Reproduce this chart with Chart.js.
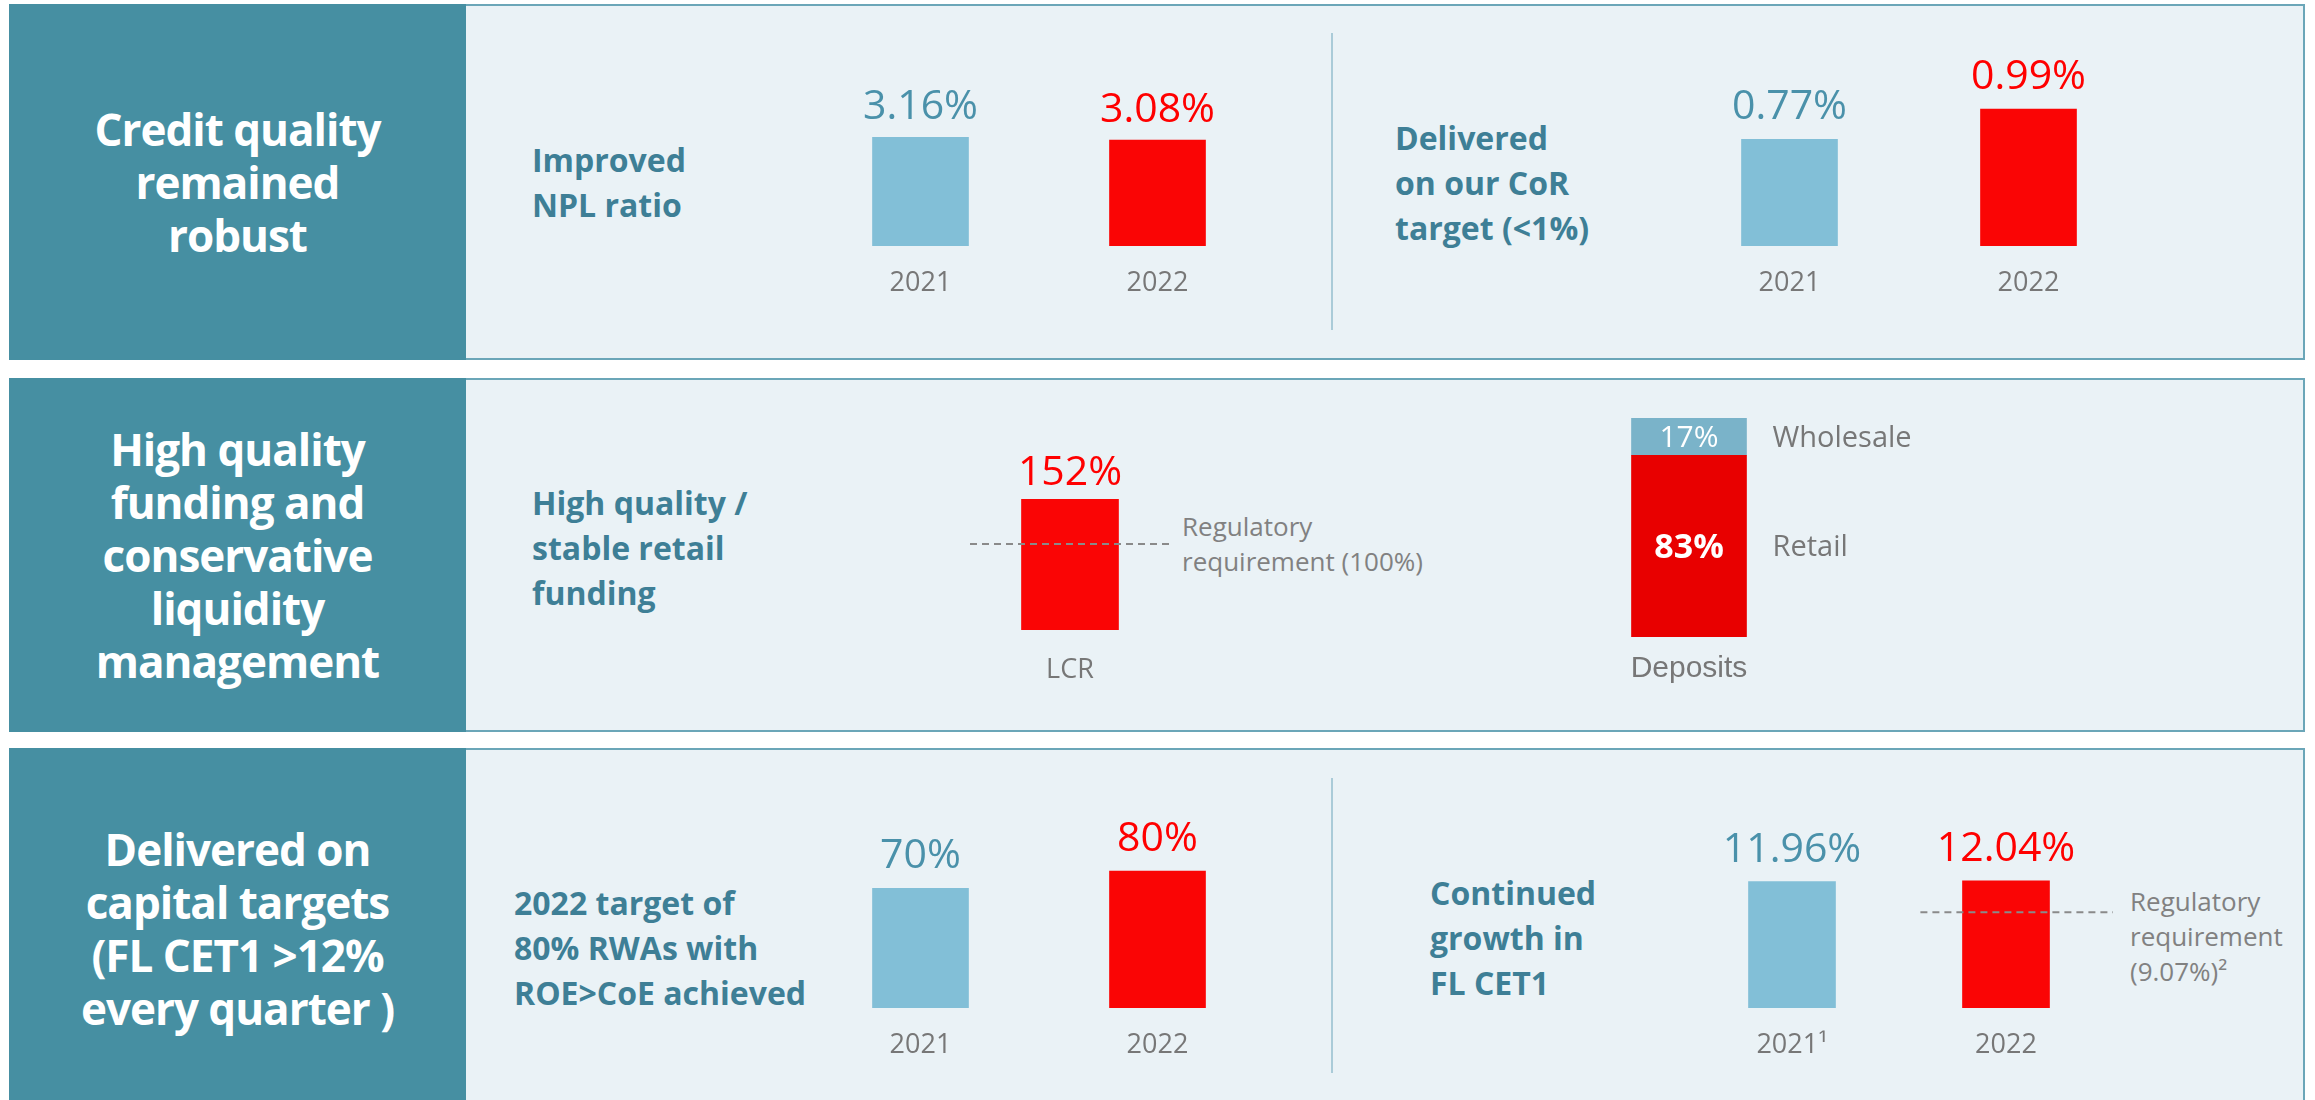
<!DOCTYPE html>
<html>
<head>
<meta charset="utf-8">
<script src="https://cdn.jsdelivr.net/npm/chart.js@4/dist/chart.umd.min.js"></script>
<style>
  html, body { margin: 0; padding: 0; background: #fff; }
  body { width: 2315px; height: 1100px; position: relative; overflow: hidden; font-family: "Open Sans", sans-serif; }
  .side { position: absolute; left: 9px; width: 457px; background: #468fa2; color: #fff; font-weight: 700;
          font-size: 44px; letter-spacing: -1px; line-height: 53px; display: flex; align-items: center;
          justify-content: center; text-align: center; }
  .panel { position: absolute; left: 466px; width: 1839px; background: #eaf2f6; border: 2px solid #6ba6b8;
           border-left: none; box-sizing: border-box; }
  .sub { position: absolute; color: #3e7f96; font-weight: 700; font-size: 32px; line-height: 45px; white-space: nowrap; }
  .note { position: absolute; color: #818181; font-size: 26px; line-height: 35px; white-space: nowrap; }
  .divider { position: absolute; left: 1331px; width: 2px; background: #aacbd8; }
  canvas { position: absolute; }
</style>
</head>
<body>

<!-- row 1 -->
<div class="side" style="top:4px;height:356px">Credit quality<br>remained<br>robust</div>
<div class="panel" style="top:4px;height:356px"></div>
<div class="divider" style="top:33px;height:297px"></div>
<div class="sub" style="left:532px;top:137px">Improved<br>NPL ratio</div>
<div class="sub" style="left:1395px;top:115px">Delivered<br>on our CoR<br>target (&lt;1%)</div>

<!-- row 2 -->
<div class="side" style="top:378px;height:354px">High quality<br>funding and<br>conservative<br>liquidity<br>management</div>
<div class="panel" style="top:378px;height:354px"></div>
<div class="sub" style="left:532px;top:480px">High quality /<br>stable retail<br>funding</div>
<div class="note" style="left:1182px;top:509px">Regulatory<br>requirement (100%)</div>

<!-- row 3 -->
<div class="side" style="top:748px;height:362px">Delivered on<br>capital targets<br>(FL CET1 &gt;12%<br>every quarter )</div>
<div class="panel" style="top:748px;height:362px"></div>
<div class="divider" style="top:778px;height:295px"></div>
<div class="sub" style="left:514px;top:880px">2022 target of<br>80% RWAs with<br>ROE&gt;CoE achieved</div>
<div class="sub" style="left:1430px;top:870px">Continued<br>growth in<br>FL CET1</div>
<div class="note" style="left:2130px;top:884px">Regulatory<br>requirement<br>(9.07%)²</div>

<script>
// ---- data ----
const nplYears = ['2021', '2022'];
const nplRatio = [3.16, 3.08];

const corYears = ['2021', '2022'];
const corRatio = [0.77, 0.99];

const lcrLabels = ['LCR'];
const lcrValue = [152];
const lcrRequirement = 100;

const depositLabels = ['Deposits'];
const retailShare = [83];
const wholesaleShare = [17];

const rwaYears = ['2021', '2022'];
const rwaShare = [70, 80];

const cet1Years = ['2021¹', '2022'];
const cet1Ratio = [11.96, 12.04];
const cet1Requirement = 9.07;

// ---- styles ----
const LIGHT_BLUE = '#82bfd7';
const RED = '#fa0505';
const LABEL_BLUE = '#4a91aa';
const LABEL_RED = '#ff0000';
const GREY = '#777777';

// draws tick labels, value labels and the dashed requirement line
const barText = {
  id: 'barText',
  afterDatasetsDraw(chart, args, opts) {
    const ctx = chart.ctx;
    const xs = chart.scales.x, ys = chart.scales.y;
    const area = chart.chartArea;
    ctx.save();

    if (opts.refValue != null) {
      const y = ys.getPixelForValue(opts.refValue);
      let x0 = area.left, x1 = area.right;
      if (opts.refSpan) {
        const c = xs.getPixelForValue(opts.refSpan.index);
        const w = xs.width / chart.data.labels.length;
        x0 = c + opts.refSpan.from * w;
        x1 = c + opts.refSpan.to * w;
      }
      ctx.strokeStyle = '#8a8a8a';
      ctx.lineWidth = 2;
      ctx.setLineDash([7, 5]);
      ctx.beginPath();
      ctx.moveTo(x0, y);
      ctx.lineTo(x1, y);
      ctx.stroke();
      ctx.setLineDash([]);
    }

    // category labels under the bars
    ctx.textAlign = 'center';
    ctx.textBaseline = 'alphabetic';
    ctx.font = opts.tickFont || '27px "Open Sans"';
    ctx.fillStyle = GREY;
    chart.data.labels.forEach((lab, i) => {
      ctx.fillText(lab, xs.getPixelForValue(i), area.bottom + opts.tickOffset);
    });

    if (opts.inside) {
      // stacked bar: values inside, series names on the right
      chart.data.datasets.forEach((ds, di) => {
        const el = chart.getDatasetMeta(di).data[0];
        const cy = (el.y + el.base) / 2;
        ctx.textAlign = 'center';
        ctx.textBaseline = 'middle';
        ctx.fillStyle = '#ffffff';
        ctx.font = opts.insideFonts[di];
        ctx.fillText(ds.data[0] + '%', el.x, cy + 2);
        ctx.textAlign = 'left';
        ctx.fillStyle = GREY;
        ctx.font = '29px "Open Sans"';
        ctx.fillText(ds.label, el.x + el.width / 2 + 26, cy + 2);
      });
    } else {
      const ds = chart.data.datasets[0];
      const meta = chart.getDatasetMeta(0);
      ctx.textAlign = 'center';
      ctx.textBaseline = 'alphabetic';
      ctx.font = '41px "Open Sans"';
      meta.data.forEach((el, i) => {
        ctx.fillStyle = opts.valueColors[i];
        ctx.fillText(ds.data[i].toFixed(opts.decimals) + '%', el.x, el.y - opts.valueOffset);
      });
    }
    ctx.restore();
  }
};

function place(id, left, areaTop, areaW, areaH, pad) {
  const c = document.createElement('canvas');
  c.id = id;
  c.width = areaW + pad.right;
  c.height = pad.top + areaH + pad.bottom;
  c.style.left = left + 'px';
  c.style.top = (areaTop - pad.top) + 'px';
  document.body.appendChild(c);
  return c;
}

function barChart(id, box, labels, datasets, yMax, textOpts, stacked) {
  const pad = { top: box.padTop, bottom: 70, left: 0, right: box.padRight || 0 };
  const canvas = place(id, box.left, box.bottom - box.height, box.width, box.height, pad);
  return new Chart(canvas, {
    type: 'bar',
    data: { labels, datasets },
    options: {
      responsive: false,
      animation: false,
      devicePixelRatio: 1,
      layout: { padding: pad },
      plugins: { legend: { display: false }, tooltip: { enabled: false }, barText: textOpts },
      scales: {
        x: { display: false, stacked: !!stacked },
        y: { display: false, min: 0, max: yMax, stacked: !!stacked }
      }
    },
    plugins: [barText]
  });
}

// Improved NPL ratio
barChart('npl', { left: 802, width: 474, bottom: 246, height: 172, padTop: 60 }, nplYears,
  [{ data: nplRatio, backgroundColor: [LIGHT_BLUE, RED], barThickness: 96 }], 5,
  { decimals: 2, valueOffset: 18, tickOffset: 45, valueColors: [LABEL_BLUE, LABEL_RED] });

// CoR
barChart('cor', { left: 1670, width: 478, bottom: 246, height: 173, padTop: 60 }, corYears,
  [{ data: corRatio, backgroundColor: [LIGHT_BLUE, RED], barThickness: 96 }], 1.25,
  { decimals: 2, valueOffset: 20, tickOffset: 45, valueColors: [LABEL_BLUE, LABEL_RED] });

// LCR
barChart('lcr', { left: 970, width: 200, bottom: 630, height: 172, padTop: 40 }, lcrLabels,
  [{ data: lcrValue, backgroundColor: [RED], barThickness: 97 }], 200,
  { decimals: 0, valueOffset: 14, tickOffset: 48, valueColors: [LABEL_RED], refValue: lcrRequirement });

// Deposits mix
barChart('deposits', { left: 1589, width: 200, bottom: 637, height: 219, padTop: 10, padRight: 260 }, depositLabels,
  [
    { label: 'Retail', data: retailShare, backgroundColor: '#e80000', barThickness: 115 },
    { label: 'Wholesale', data: wholesaleShare, backgroundColor: '#7ab3c9', barThickness: 115 }
  ], 100,
  { inside: true, insideFonts: ['700 34px "Open Sans"', '30px "Open Sans"'], tickOffset: 40,
    tickFont: '30px "Liberation Sans"' }, true);

// RWAs with ROE > CoE
barChart('rwa', { left: 802, width: 474, bottom: 1008, height: 171, padTop: 50 }, rwaYears,
  [{ data: rwaShare, backgroundColor: [LIGHT_BLUE, RED], barThickness: 96 }], 100,
  { decimals: 0, valueOffset: 20, tickOffset: 45, valueColors: [LABEL_BLUE, LABEL_RED] });

// FL CET1
barChart('cet1', { left: 1685, width: 428, bottom: 1008, height: 169, padTop: 60 }, cet1Years,
  [{ data: cet1Ratio, backgroundColor: [LIGHT_BLUE, RED], barThickness: 87 }], 16,
  { decimals: 2, valueOffset: 20, tickOffset: 45, valueColors: [LABEL_BLUE, LABEL_RED],
    refValue: cet1Requirement, refSpan: { index: 1, from: -0.40, to: 0.52 } });
</script>
</body>
</html>
